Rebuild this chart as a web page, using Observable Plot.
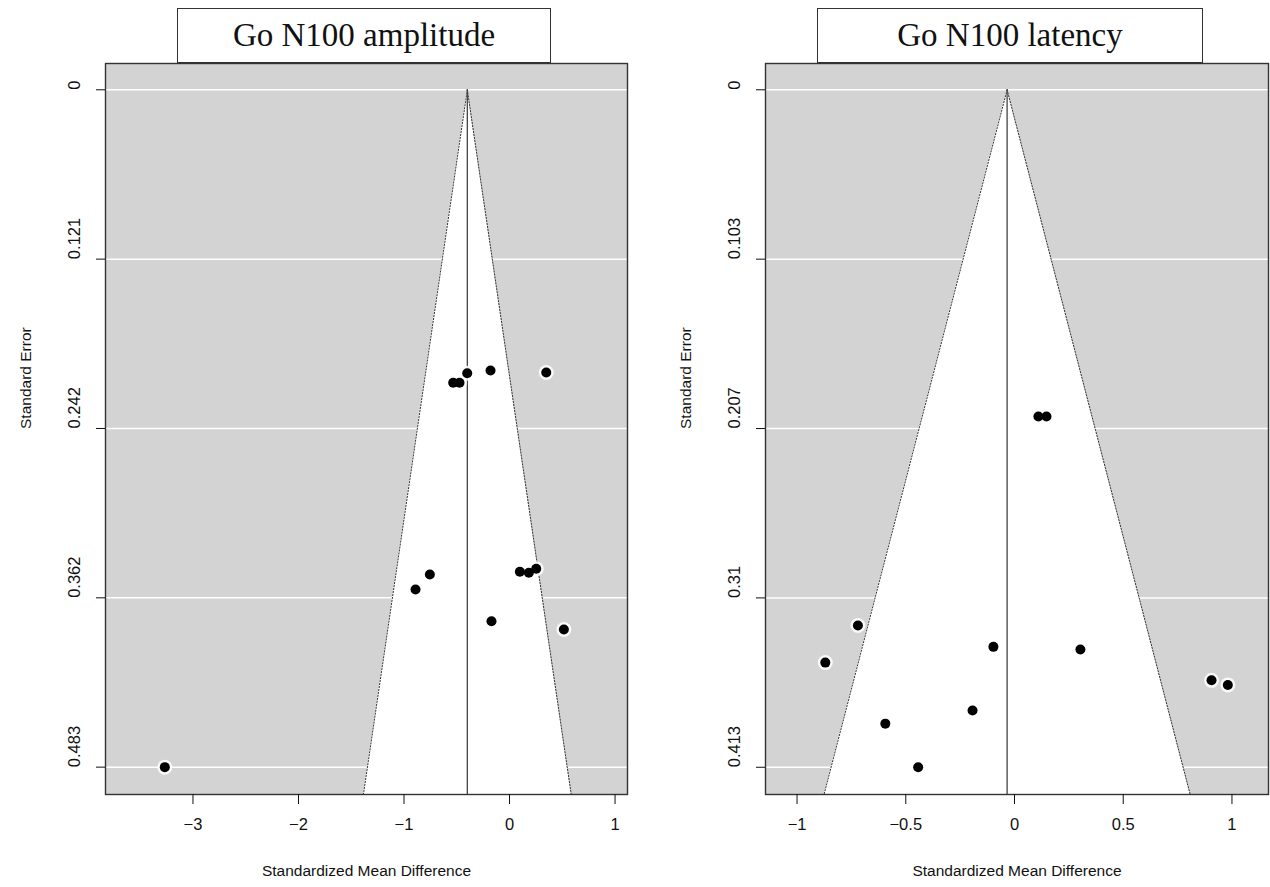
<!DOCTYPE html>
<html><head><meta charset="utf-8">
<script src="https://cdn.jsdelivr.net/npm/d3@7"></script>
<script src="https://cdn.jsdelivr.net/npm/@observablehq/plot@0.6"></script>
<style>
body{margin:0;background:#fff;width:1270px;height:887px;position:relative;overflow:hidden;font-family:"Liberation Sans",Arial,sans-serif}
.panel{position:absolute;top:0}
.title{position:absolute;top:8px;height:55px;border:1.5px solid #333;background:#fff;box-sizing:border-box;font-family:"Liberation Serif","Times New Roman",serif;font-size:33px;line-height:52px;text-align:center;color:#111}
</style></head><body>
<div id="left" class="panel" style="left:0px"></div>
<div id="right" class="panel" style="left:660px"></div>
<div class="title" style="left:177px;width:374px">Go N100 amplitude</div>
<div class="title" style="left:817px;width:386px">Go N100 latency</div>
<script>
// ---- Left panel: Go N100 amplitude ----
const ampEffects = [-0.401, -0.534, -0.474, -0.180, 0.348, -0.755, -0.891, 0.098, 0.183, 0.253, -0.171, 0.515, -3.267];
const ampSE      = [0.2021, 0.2089, 0.2089, 0.2002, 0.2016, 0.3456, 0.3563, 0.3437, 0.3444, 0.3415, 0.3789, 0.3848, 0.483];
const ampCenter  = -0.40;
const ampYTicks  = [0, 0.12075, 0.2415, 0.36225, 0.483];
const ampYLabels = ["0", "0.121", "0.242", "0.362", "0.483"];
const ampXTicks  = [-3, -2, -1, 0, 1];
const ampXLabels = ["\u22123", "\u22122", "\u22121", "0", "1"];
const ampXDomain = [-3.829, 1.118];
const ampYDomain = [-0.01875, 0.5025];

// ---- Right panel: Go N100 latency ----
const latEffects = [0.110, 0.147, -0.720, -0.870, -0.594, -0.443, 0.303, 0.906, 0.981, -0.097, -0.193];
const latSE      = [0.1992, 0.1992, 0.3266, 0.3492, 0.3864, 0.413, 0.3412, 0.3600, 0.3628, 0.3396, 0.3784];
const latCenter  = -0.034;
const latYTicks  = [0, 0.10325, 0.2065, 0.30975, 0.413];
const latYLabels = ["0", "0.103", "0.207", "0.31", "0.413"];
const latXTicks  = [-1, -0.5, 0, 0.5, 1];
const latXLabels = ["\u22121", "\u22120.5", "0", "0.5", "1"];
const latXDomain = [-1.145, 1.168];
const latYDomain = [-0.01603, 0.4296];

const xLabel = "Standardized Mean Difference";
const yLabel = "Standard Error";
const z = 1.96;

function funnel({effects, se, center, yTicks, yLabels, xTicks, xLabels, xDomain, yDomain, width, marginRight}) {
  const pts = effects.map((e, i) => ({x: e, se: se[i]}));
  const fse = [0, yDomain[1]];
  return Plot.plot({
    width, height: 887,
    marginLeft: 105, marginRight, marginTop: 63, marginBottom: 93,
    style: {fontFamily: "'Liberation Sans', Arial, sans-serif", background: "transparent", overflow: "visible", color: "#111"},
    x: {domain: xDomain},
    y: {domain: yDomain, reverse: true},
    marks: [
      Plot.frame({fill: "#d3d3d3"}),
      Plot.ruleY(yTicks, {stroke: "white", strokeWidth: 1.5}),
      Plot.areaX(fse, {y: d => d, x1: d => center - z * d, x2: d => center + z * d, fill: "white"}),
      Plot.line(fse, {x: d => center - z * d, y: d => d, stroke: "#333", strokeWidth: 1, strokeDasharray: "1.3,1.7"}),
      Plot.line(fse, {x: d => center + z * d, y: d => d, stroke: "#333", strokeWidth: 1, strokeDasharray: "1.3,1.7"}),
      Plot.ruleX([center], {y1: 0, y2: yDomain[1], stroke: "#444", strokeWidth: 1.3}),
      Plot.dot(pts, {x: "x", y: "se", r: 7.5, fill: "white", fillOpacity: 0.85}),
      Plot.dot(pts, {x: "x", y: "se", r: 5, fill: "black"}),
      Plot.frame({stroke: "#333", strokeWidth: 1.4}),
      Plot.axisY({ticks: yTicks, tickSize: 9, tickFormat: () => "", label: null}),
      Plot.axisX({ticks: xTicks, tickSize: 10, tickFormat: () => "", label: null}),
      Plot.text(yTicks, {y: d => d, text: (d, i) => yLabels[i], frameAnchor: "left", dx: -31, rotate: -90, fontSize: 16.5}),
      Plot.text(xTicks, {x: d => d, text: (d, i) => xLabels[i], frameAnchor: "bottom", dy: 35, fontSize: 16.5}),
      Plot.text([xLabel], {text: d => d, frameAnchor: "bottom", dy: 81, fontSize: 15.5}),
      Plot.text([yLabel], {text: d => d, frameAnchor: "left", dx: -79, rotate: -90, fontSize: 15.5})
    ]
  });
}

document.getElementById("left").append(funnel({
  effects: ampEffects, se: ampSE, center: ampCenter, yTicks: ampYTicks, yLabels: ampYLabels,
  xTicks: ampXTicks, xLabels: ampXLabels, xDomain: ampXDomain, yDomain: ampYDomain, width: 640, marginRight: 13
}));
document.getElementById("right").append(funnel({
  effects: latEffects, se: latSE, center: latCenter, yTicks: latYTicks, yLabels: latYLabels,
  xTicks: latXTicks, xLabels: latXLabels, xDomain: latXDomain, yDomain: latYDomain, width: 610, marginRight: 2
}));
</script>
</body></html>
